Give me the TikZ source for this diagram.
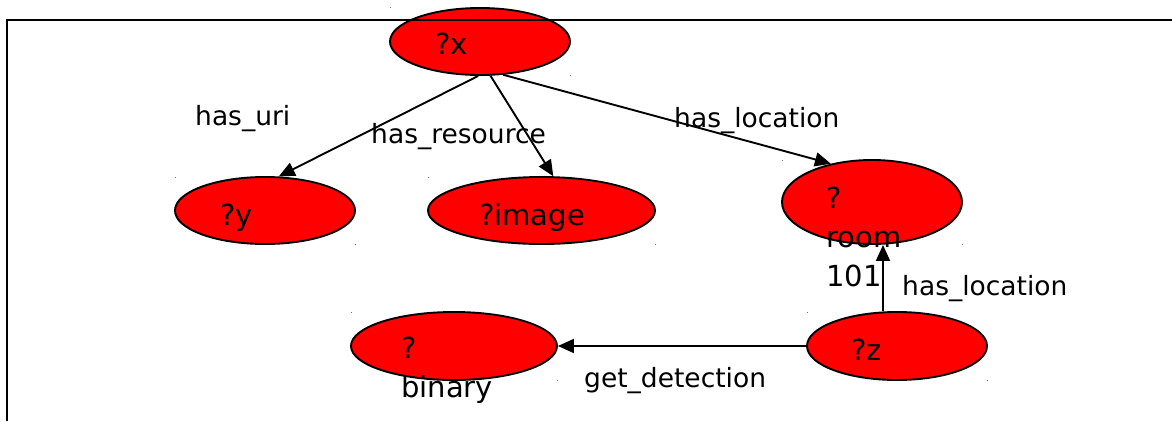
\documentclass[tikz,border=0pt]{standalone}
\usepackage{fontspec}
\setmainfont{DejaVu Sans}
\usetikzlibrary{shapes.geometric,arrows.meta,calc}
\begin{document}
\begin{tikzpicture}[x=1pt,y=-1pt,
  ell/.style={ellipse,draw=black,line width=1.9pt,fill=red,inner sep=0pt},
  txt/.style={inner sep=0pt,anchor=base west,font=\fontsize{29}{39}\selectfont,align=left},
  lbl/.style={inner sep=0pt,anchor=base west,font=\fontsize{26.5}{39}\selectfont},
  arr/.style={line width=1.9pt,-{Triangle[length=16pt,width=14pt]}},
  cornerdot/.style={fill=black!55}]
\useasboundingbox (0,0) rectangle (1172,421);

% variable nodes
\node[ell,minimum width=180pt,minimum height=67pt] (x) at (480,41.5) {};
\node[ell,minimum width=180pt,minimum height=67pt] (y) at (265,210.5) {};
\node[ell,minimum width=227pt,minimum height=67pt] (image) at (541.5,210.5) {};
\node[ell,minimum width=180pt,minimum height=84pt] (room) at (872,202) {};
\node[ell,minimum width=206pt,minimum height=68pt] (binary) at (454,346) {};
\node[ell,minimum width=180pt,minimum height=68pt] (z) at (897,346) {};

% corner marks of the node boxes
\foreach \p in {(390,7),(570,75),(175,177),(355,244),(428,177),(655,244),
                (782,160),(962,244),(351,312),(557,380),(807,312),(987,380)}
  \fill[cornerdot] \p rectangle ++(1.2,1.2);

% node texts (base anchor sits on the last line)
\node[txt] (xt) at (435,54) {?x};
\node[txt] (yt) at (220,225) {?y};
\node[txt] (imaget) at (479,225) {?image};
\node[txt] (roomt) at (826,286) {?\\room\\101};
\node[txt] (binaryt) at (401,397) {?\\binary};
\node[txt] (zt) at (851,360) {?z};

% edges
\draw[arr] (x.-93) -- (y.68);
\draw[arr] (x.-73) -- (image.71);
\draw[arr] (x.-55) -- (room.137);
\draw[arr] ($(z.north)+(-14,0)$) -- ($(room.south)+(11,0)$);
\draw[arr] (z.west) -- (binary.east);

% edge labels
\node[lbl] (l1) at (195,125) {has\_uri};
\node[lbl] (l2) at (371,143) {has\_resource};
\node[lbl] (l3) at (674,127) {has\_location};
\node[lbl] (l4) at (902,295) {has\_location};
\node[lbl] (l5) at (584,387) {get\_detection};

% frame
\draw[line width=2pt] (7,421) -- (7,20) -- (1172,20);
\end{tikzpicture}
\end{document}
